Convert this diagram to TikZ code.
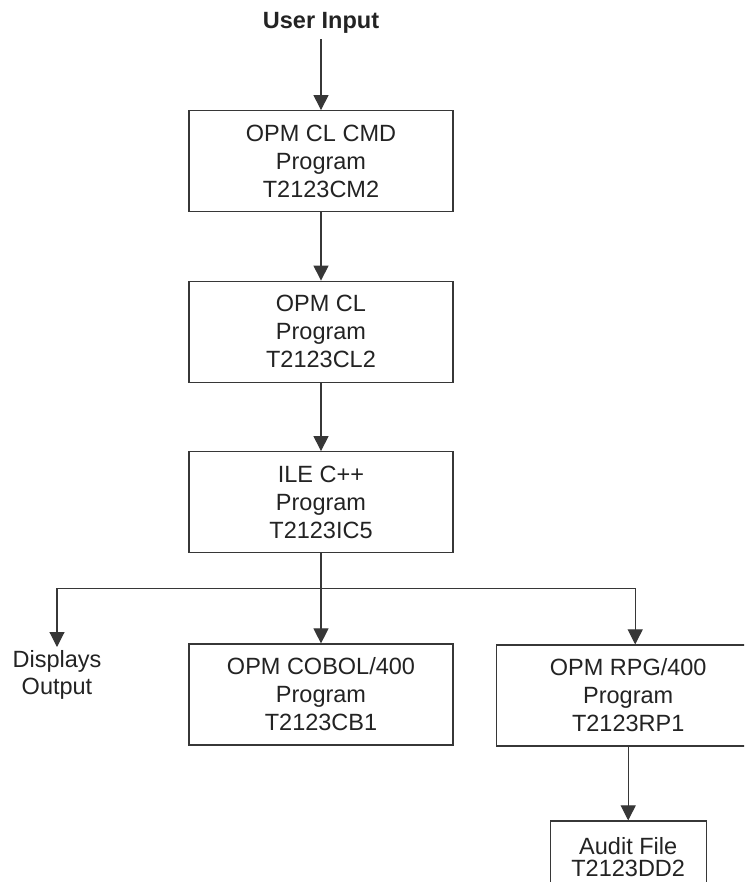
\documentclass[tikz,border=0pt]{standalone}
\usepackage{fontspec}
\setmainfont{Liberation Sans}
\usetikzlibrary{arrows.meta,positioning}
\definecolor{inkgray}{RGB}{35,35,35}
\definecolor{rulegray}{RGB}{55,55,55}
\tikzset{
  basebox/.style={rectangle,draw=rulegray,line width=1.2pt,fill=white,align=center,text=inkgray,inner sep=0pt},
  progbox/.style={basebox,font=\fontsize{23.5}{28}\selectfont,minimum width=264pt,minimum height=101pt,execute at begin node=\rule{0pt}{25pt}},
  filebox/.style={basebox,font=\fontsize{23.5}{22}\selectfont,minimum width=156pt,minimum height=73pt},
  plaintext/.style={align=center,text=inkgray,font=\fontsize{23.5}{27}\selectfont},
  arr/.style={-{Triangle[length=15pt,width=15pt]},line width=1.1pt,draw=rulegray},
  ln/.style={line width=1.1pt,draw=rulegray}
}

\begin{document}
\begin{tikzpicture}[x=1pt,y=-1pt]
  \clip (0,0) rectangle (744,882);
  \fill[white] (0,0) rectangle (744,882);

  \node[plaintext,font=\fontsize{23.5}{27}\selectfont\bfseries,anchor=base,inner sep=5pt] (user) at (321,29) {User Input};
  \node[progbox] (cm2) at (321,161.2) {OPM CL CMD\\Program\\T2123CM2};
  \node[progbox,below=68.3pt of cm2] (cl2) {OPM CL\\Program\\T2123CL2};
  \node[progbox,below=68.3pt of cl2] (ic5) {ILE C++\\Program\\T2123IC5};
  \node[progbox,below=90.1pt of ic5] (cb1) {OPM COBOL/400\\Program\\T2123CB1};
  \node[progbox,right=42pt of cb1,yshift=-1pt] (rp1) {OPM RPG/400\\Program\\T2123RP1};
  \node[filebox,below=73.8pt of rp1] (audit) {Audit File\\T2123DD2};
  \node[plaintext,anchor=north,inner sep=3pt] (disp) at (57,647) {Displays\\Output};
  \coordinate[below=35pt of ic5.south] (split);

  \draw[arr] (user.south) -- (cm2.north);
  \draw[arr] (cm2) -- (cl2);
  \draw[arr] (cl2) -- (ic5);
  \draw[ln] (ic5.south) -- (split);
  \draw[arr] (split) -- (cb1.north);
  \draw[arr] (split) -| (disp.north);
  \draw[arr] (split) -| ([xshift=7pt]rp1.north);
  \draw[arr] (rp1.south) -- (audit.north);
\end{tikzpicture}
\end{document}
